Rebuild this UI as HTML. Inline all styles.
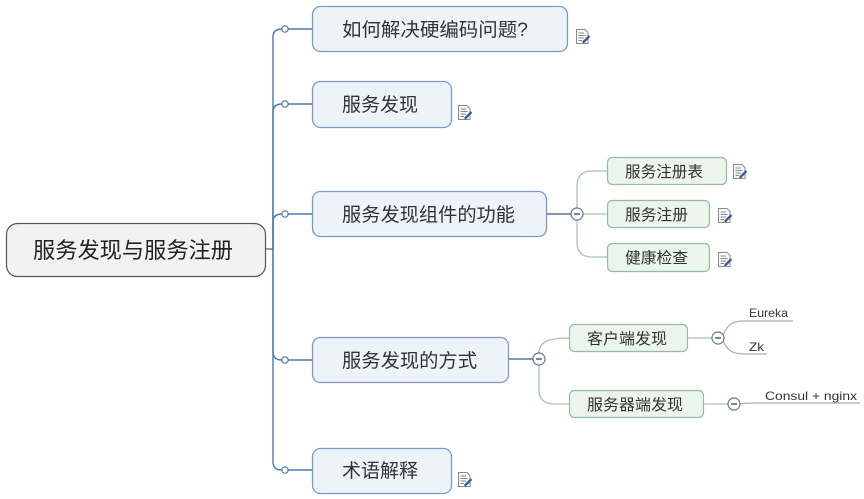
<!DOCTYPE html>
<html><head><meta charset="utf-8"><style>
html,body{margin:0;padding:0;background:#fff;}
svg{display:block;}
.cj{font-family:"Liberation Sans","Noto Sans CJK SC",sans-serif;}
.la{font-family:"Liberation Sans",sans-serif;}
</style></head><body>
<svg width="864" height="499" viewBox="0 0 864 499" xmlns="http://www.w3.org/2000/svg">
<defs>
<g id="note">
  <path d="M0.5,0.5 H9 L12,3.5 V14.5 H0.5 Z" fill="#fafafa" stroke="#8a8a8a" stroke-width="1"/>
  <path d="M2.5,4 H8 M2.5,6.5 H9.5 M2.5,9 H8 M2.5,11.5 H6" stroke="#888" stroke-width="1"/>
  <path d="M7,13.5 L13.5,7" stroke="#3b5f9a" stroke-width="2.4"/>
  <path d="M6.2,14.3 L7.2,12.6 L8,13.4 Z" fill="#333"/>
</g>
</defs>

<!-- main blue connectors -->
<g fill="none" stroke="#4f79ad" stroke-width="1.4">
  <path d="M266,249 H273"/>
  <path d="M273,249 V37 Q273,29 282,29"/>
  <path d="M273,249 V112 Q273,104 282,104"/>
  <path d="M273,249 V222 Q273,214 282,214"/>
  <path d="M273,249 V352 Q273,360 282,360"/>
  <path d="M273,249 V462 Q273,470 282,470"/>
  <path d="M288,29 H312"/>
  <path d="M288,104 H312"/>
  <path d="M288,214 H312"/>
  <path d="M288,360 H312"/>
  <path d="M288,470 H312"/>
  <path d="M547,214 H571"/>
  <path d="M509,359 H533"/>
</g>
<g fill="#fff" stroke="#4f79ad" stroke-width="1.2">
  <circle cx="285" cy="29" r="3.2"/>
  <circle cx="285" cy="104" r="3.2"/>
  <circle cx="285" cy="214" r="3.2"/>
  <circle cx="285" cy="360" r="3.2"/>
  <circle cx="285" cy="470" r="3.2"/>
</g>

<!-- green/gray sub connectors -->
<g fill="none" stroke="#a9c2ae" stroke-width="1.3">
  <path d="M577,208 V186 Q577,171 592,171 H607"/>
  <path d="M583,214 H607"/>
  <path d="M577,220 V242 Q577,257 592,257 H607"/>
  <path d="M539,353 C539,341 550,338 569,338"/>
  <path d="M539,365 V389 Q539,404 554,404 H569"/>
  <path d="M688,338 H712"/>
  <path d="M704,404 H728"/>
</g>
<g fill="none" stroke="#a8aeb0" stroke-width="1.2">
  <path d="M723,335 C728,324 732,321 745,321 H793"/>
  <path d="M723,341 C728,351 732,354 745,354 H767"/>
  <path d="M740,404 C746,403 750,403 760,403 H860"/>
</g>
<!-- collapse circles -->
<g fill="#fff" stroke="#5b7a9a" stroke-width="1.2">
  <circle cx="577" cy="214" r="6"/>
  <circle cx="539" cy="359" r="6"/>
  <circle cx="718" cy="338" r="6"/>
  <circle cx="734" cy="404" r="6"/>
</g>
<g stroke="#333" stroke-width="1.2">
  <path d="M574,214 H580"/>
  <path d="M536,359 H542"/>
  <path d="M715,338 H721"/>
  <path d="M731,404 H737"/>
</g>

<!-- root -->
<rect x="6.5" y="223.5" width="259" height="53" rx="11" fill="#f2f2f2" stroke="#555" stroke-width="1.2"/>
<text class="cj" x="33" y="258" font-size="22" fill="#222" textLength="200" lengthAdjust="spacingAndGlyphs">服务发现与服务注册</text>

<!-- main topics -->
<g fill="#eef3fa" stroke="#7d9bc0" stroke-width="1.3">
  <rect x="312.5" y="6.5" width="255" height="45" rx="8"/>
  <rect x="312.5" y="81.5" width="139" height="46" rx="8"/>
  <rect x="312.5" y="191.5" width="234" height="45" rx="8"/>
  <rect x="312.5" y="337.5" width="196" height="45" rx="8"/>
  <rect x="312.5" y="448.5" width="139" height="45" rx="8"/>
</g>
<g class="cj" font-size="19" fill="#333">
  <text x="342" y="36" textLength="186" lengthAdjust="spacingAndGlyphs">如何解决硬编码问题?</text>
  <text x="342" y="111" textLength="76" lengthAdjust="spacingAndGlyphs">服务发现</text>
  <text x="342" y="221" textLength="173" lengthAdjust="spacingAndGlyphs">服务发现组件的功能</text>
  <text x="342" y="367" textLength="135" lengthAdjust="spacingAndGlyphs">服务发现的方式</text>
  <text x="342" y="477" textLength="76" lengthAdjust="spacingAndGlyphs">术语解释</text>
</g>

<!-- sub topics -->
<g fill="#ebf4ed" stroke="#97bba0" stroke-width="1.2">
  <rect x="607.5" y="157.5" width="119" height="27" rx="5"/>
  <rect x="607.5" y="200.5" width="102" height="27" rx="5"/>
  <rect x="607.5" y="243.5" width="102" height="28" rx="5"/>
  <rect x="569.5" y="324.5" width="118" height="27" rx="5"/>
  <rect x="569.5" y="390.5" width="134" height="27" rx="5"/>
</g>
<g class="cj" font-size="15.5" fill="#333">
  <text x="625" y="177" textLength="78" lengthAdjust="spacingAndGlyphs">服务注册表</text>
  <text x="625" y="220" textLength="63" lengthAdjust="spacingAndGlyphs">服务注册</text>
  <text x="625" y="263" textLength="63" lengthAdjust="spacingAndGlyphs">健康检查</text>
  <text x="587" y="344" textLength="80" lengthAdjust="spacingAndGlyphs">客户端发现</text>
  <text x="587" y="410" textLength="96" lengthAdjust="spacingAndGlyphs">服务器端发现</text>
</g>

<!-- leaf labels -->
<g class="la" font-size="12" fill="#333">
  <text x="749" y="317" textLength="39" lengthAdjust="spacingAndGlyphs">Eureka</text>
  <text x="749" y="351" textLength="15" lengthAdjust="spacingAndGlyphs">Zk</text>
  <text x="765" y="400" textLength="92" lengthAdjust="spacingAndGlyphs">Consul + nginx</text>
</g>

<!-- note icons -->
<use href="#note" x="576" y="29"/>
<use href="#note" x="458" y="105"/>
<use href="#note" x="458" y="472"/>
<use href="#note" x="733" y="164"/>
<use href="#note" x="718" y="208"/>
<use href="#note" x="718" y="252"/>
</svg>
</body></html>
